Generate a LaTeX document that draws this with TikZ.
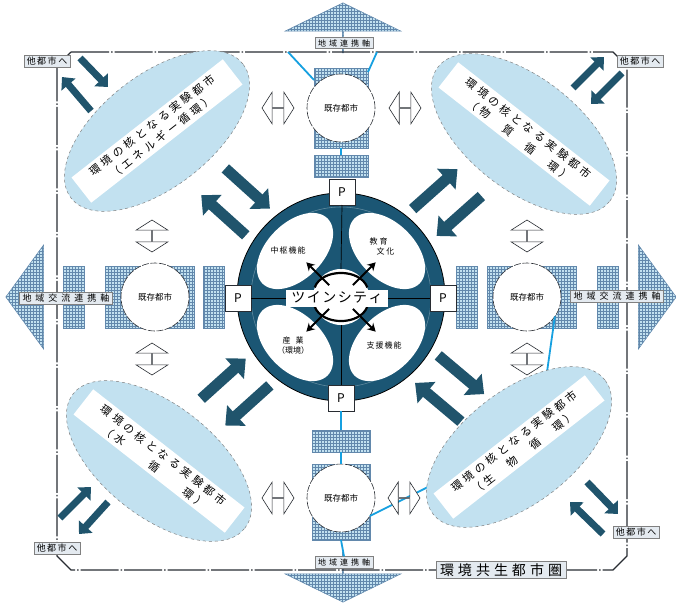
\documentclass[tikz,border=0pt]{standalone}
\usepackage{fontspec}
\setmainfont{Noto Sans CJK JP}
\usetikzlibrary{arrows.meta, positioning, shapes.geometric, shapes.arrows, patterns, calc}
\definecolor{ringblue}{RGB}{27,86,116}
\definecolor{arrowblue}{RGB}{32,84,108}
\definecolor{paleblue}{RGB}{194,225,240}
\definecolor{gridblue}{RGB}{98,136,172}
\definecolor{linkcyan}{RGB}{22,160,224}
\definecolor{darkgray}{RGB}{40,44,50}
\definecolor{tagfill}{RGB}{228,234,240}

\newcommand\fsz[1]{\fontsize{#1}{#1}\selectfont}
\makeatletter
\newcommand\spacedtext[2][3.5pt]{\def\spaced@kern{#1}\spaced@#2\@nil}
\def\spaced@#1{#1\spaced@@}
\def\spaced@@#1{\ifx#1\@nil\else\kern\spaced@kern#1\expandafter\spaced@@\fi}
\makeatother

\begin{document}
\begin{tikzpicture}[x=1pt, y=-1pt,
    every node/.style={inner sep=0pt, outer sep=0pt},
    hatch/.style={rectangle, draw=gridblue, line width=0.5pt, preaction={fill=paleblue}, pattern=grid, pattern color=gridblue},
    axisarrow/.style={single arrow, draw=gridblue, line width=0.5pt, preaction={fill=paleblue}, pattern=grid, pattern color=gridblue},
    axislabel/.style={rectangle, draw=gray, fill=tagfill, inner xsep=3pt, inner ysep=2pt},
    city/.style={circle, draw=darkgray, line width=0.6pt, dash pattern=on 7pt off 1.5pt, fill=white, minimum size=68pt, font=\fsz{8.5}},
    park/.style={rectangle, draw=darkgray, line width=0.7pt, fill=white, minimum size=26pt, font=\fsz{12}},
    zone/.style={ellipse, draw=gray, dashed, line width=0.5pt, fill=paleblue, minimum width=218pt, minimum height=112pt},
    band/.style={rectangle, fill=white, minimum width=192pt, minimum height=32pt, align=center, font=\fontsize{11}{15}\selectfont},
    lobe/.style={ellipse, fill=white, minimum width=92pt, minimum height=56pt},
    twoway/.style={double arrow, draw=darkgray, line width=0.6pt, fill=white, minimum height=32pt, minimum width=32pt, double arrow head extend=8pt, double arrow tip angle=115},
    bigarrow/.style={arrowblue, line width=11pt, -{Triangle[length=15pt, width=27pt]}},
    smallarrow/.style={arrowblue, line width=7pt, -{Triangle[length=10pt, width=18pt]}},
    link/.style={linkcyan, line width=1.8pt},
    tag/.style={rectangle, draw=gray, fill=tagfill, inner xsep=2.5pt, inner ysep=2pt, font=\fsz{9}},
    areaframe/.style={darkgray, line width=1.3pt, dash pattern=on 38pt off 2pt on 1.5pt off 2pt}
]
\useasboundingbox (0,0) rectangle (676,605);

% axes out of the city region
\node[axisarrow, rotate=90, minimum height=50pt, minimum width=116pt, single arrow head extend=24pt, single arrow tip angle=128] (artop) at (343,28) {};
\node[axisarrow, rotate=-90, minimum height=50pt, minimum width=116pt, single arrow head extend=24pt, single arrow tip angle=128] (arbot) at (343,577) {};
\node[axisarrow, rotate=180, minimum height=50pt, minimum width=104pt, single arrow head extend=21pt, single arrow tip angle=108] (arleft) at (31,297) {};
\node[axisarrow, minimum height=48pt, minimum width=104pt, single arrow head extend=21pt, single arrow tip angle=108] (arright) at (652,297) {};

\node[hatch, minimum width=54pt, minimum height=80pt] (trect) at (341,108) {};
\node[hatch, minimum width=54pt, minimum height=22pt] (tblk) at (341,166) {};
\node[hatch, minimum width=58pt, minimum height=76pt] (brect) at (341,502) {};
\node[hatch, minimum width=58pt, minimum height=22pt] (bblk) at (341,441) {};
\node[hatch, minimum width=89pt, minimum height=62pt] (lrect) at (150,297) {};
\node[hatch, minimum width=21pt, minimum height=62pt] (lblk1) at (74,297) {};
\node[hatch, minimum width=21pt, minimum height=62pt] (lblk2) at (214,297) {};
\node[hatch, minimum width=89pt, minimum height=62pt] (rrect) at (532,297) {};
\node[hatch, minimum width=21pt, minimum height=62pt] (rblk1) at (467,297) {};
\node[hatch, minimum width=21pt, minimum height=62pt] (rblk2) at (608,297) {};

% boundary of the region
\draw[areaframe] (71,52) -- (613,52) -- (627,66) -- (627,556) -- (613,570) -- (71,570) -- (57,556) -- (57,66) -- cycle;

% existing cities
\node[city] (ctop) at (341,108) {既存都市};
\node[city] (cbot) at (341,498) {既存都市};
\node[city] (cleft) at (155,297) {既存都市};
\node[city] (cright) at (527,297) {既存都市};

% twin city
\node[circle, fill=ringblue, draw=black, line width=0.8pt, minimum size=208pt] (twin) at (341,297) {};
\node[circle, draw=white!30!ringblue, line width=0.6pt, minimum size=180pt] (twinring) at (twin) {};
\node[lobe, rotate=45] (lobetl) at (295,251) {};
\node[lobe, rotate=-45] (lobetr) at (387,251) {};
\node[lobe, rotate=-45] (lobebl) at (295,343) {};
\node[lobe, rotate=45] (lobebr) at (387,343) {};
\node[circle, fill=white, minimum size=56pt] (core) at (341,297) {};
\node[font=\fsz{8}] (tx1) at (288,250) {\spacedtext[1pt]{中枢機能}};
\node[font=\fontsize{8}{10}\selectfont, align=left] (tx2) at (382,246) {\spacedtext[2pt]{教育}\\\hspace{7pt}\spacedtext[2pt]{文化}};
\node[font=\fontsize{8}{10}\selectfont, align=center] (tx3) at (293,346) {\spacedtext[5pt]{産業}\\（環境）};
\node[font=\fsz{8}] (tx4) at (384,345) {\spacedtext[1pt]{支援機能}};
\draw[line width=2.2pt] (core.160) to[bend left=70] (core.20);
\draw[line width=2.2pt] (core.200) to[bend right=70] (core.340);
\foreach \a in {45,135,225,315}
  \draw[line width=1.8pt, -{Stealth[length=8pt, width=9pt]}] ($(core.center)!0.6!(core.\a)$) -- ($(core.center)!1.75!(core.\a)$);
\node[fill=white, minimum width=102pt, minimum height=17pt, font=\fsz{14}] (twinlab) at (337,298) {\spacedtext[1.5pt]{ツインシティ}};

\node[park] (tp) at (342,192) {P};
\node[park] (bp) at (341,398) {P};
\node[park] (lp) at (238,298) {P};
\node[park] (rp) at (443,298) {P};
\draw[line width=0.7pt] (tp.south) -- (core.north);
\draw[line width=0.7pt] (core.south) -- (bp.north);
\draw[line width=0.7pt] (lp.east) -- (twinlab.west);
\draw[line width=0.7pt] (twinlab.east) -- (rp.west);

% links
\coordinate (ltop1) at (288,52);
\coordinate (ltop2) at (377,52);
\coordinate (lbr1) at (547,372);
\coordinate (lbr2) at (438,482);
\draw[link] (ltop1) -- ([yshift=-12pt]trect.north west);
\draw[link] (ltop2) -- ([yshift=-4pt]trect.north east);
\draw[link] (trect.south) -- (tblk.north);
\draw[link] (bp.south) -- (bblk.north);
\draw[link] (bblk.south) -- (brect.north);
\draw[link] (cright.-35) -- (lbr1);
\draw[link] (cbot.-32) -- (lbr2);

% experimental cities
\node[zone, rotate=38] (tl) at (157,131) {};
\node[zone, rotate=-38] (tr) at (524,134) {};
\node[zone, rotate=-38] (bl) at (159,461) {};
\node[zone, rotate=38] (br) at (519,447) {};
\node[band, rotate=38] (btl) at (tl) {\spacedtext{環境の核となる実験都市}\\\spacedtext{（エネルギー循環）}};
\node[band, rotate=-38] (btr) at (tr) {\spacedtext{環境の核となる実験都市}\\\spacedtext{（物　質　循　環）}};
\node[band, rotate=-38] (bbl) at (bl) {\spacedtext{環境の核となる実験都市}\\\spacedtext{（水　　循　　環）}};
\node[band, rotate=38] (bbr) at (br) {\spacedtext{環境の核となる実験都市}\\\spacedtext{（生　物　循　環）}};

% exchange between neighbours
\node[twoway] (htl) at (278,108) {};
\node[twoway] (htr) at (405,108) {};
\node[twoway] (hbl) at (278,498) {};
\node[twoway] (hbr) at (404,498) {};
\node[twoway, rotate=90] (vlt) at (152,236) {};
\node[twoway, rotate=90] (vlb) at (152,359) {};
\node[twoway, rotate=90] (vrt) at (527,236) {};
\node[twoway, rotate=90] (vrb) at (527,359) {};

\foreach \e in {tl,tr,bl,br}{
  \draw[bigarrow] ($(twin.center)!172pt!(\e.center)!18pt!-90:(\e.center)$) -- ($(twin.center)!112pt!(\e.center)!18pt!-90:(\e.center)$);
  \draw[bigarrow] ($(twin.center)!112pt!(\e.center)!18pt!90:(\e.center)$) -- ($(twin.center)!172pt!(\e.center)!18pt!90:(\e.center)$);
}

% to other cities
\node[tag] (otl) at (47,61) {\spacedtext[1.5pt]{他都市へ}};
\node[tag] (otr) at (640,61) {\spacedtext[1.5pt]{他都市へ}};
\node[tag] (obl) at (57,548) {\spacedtext[1.5pt]{他都市へ}};
\node[tag] (obr) at (636,532) {\spacedtext[1.5pt]{他都市へ}};
\draw[smallarrow] ([shift={(33,-3)}]otl.center) -- ([shift={(61,26)}]otl.center);
\draw[smallarrow] ([shift={(44,50)}]otl.center) -- ([shift={(15,16)}]otl.center);
\draw[smallarrow] ([shift={(-67,27)}]otr.center) -- ([shift={(-36,-4)}]otr.center);
\draw[smallarrow] ([shift={(-18,12)}]otr.center) -- ([shift={(-49,43)}]otr.center);
\draw[smallarrow] ([shift={(3,-30)}]obl.center) -- ([shift={(34,-61)}]obl.center);
\draw[smallarrow] ([shift={(51,-46)}]obl.center) -- ([shift={(22,-14)}]obl.center);
\draw[smallarrow] ([shift={(-49,-50)}]obr.center) -- ([shift={(-18,-18)}]obr.center);
\draw[smallarrow] ([shift={(-33,2)}]obr.center) -- ([shift={(-66,-30)}]obr.center);

% axis labels
\node[axislabel, font=\fsz{8}] (labtop) at (344,43) {\spacedtext[3pt]{地域連携軸}};
\node[axislabel, font=\fsz{8}] (labbot) at (344,562) {\spacedtext[3pt]{地域連携軸}};
\node[axislabel, font=\fsz{9}] (lableft) at (66,298) {\spacedtext[4pt]{地域交流連携軸}};
\node[axislabel, font=\fsz{9}] (labright) at (617,296) {\spacedtext[4pt]{地域交流連携軸}};
\draw[link] (brect.south) -- (labbot.north);

\node[tag, font=\fsz{14}, inner xsep=4pt] (region) at (501,570) {\spacedtext[4pt]{環境共生都市圏}};
\end{tikzpicture}
\end{document}
